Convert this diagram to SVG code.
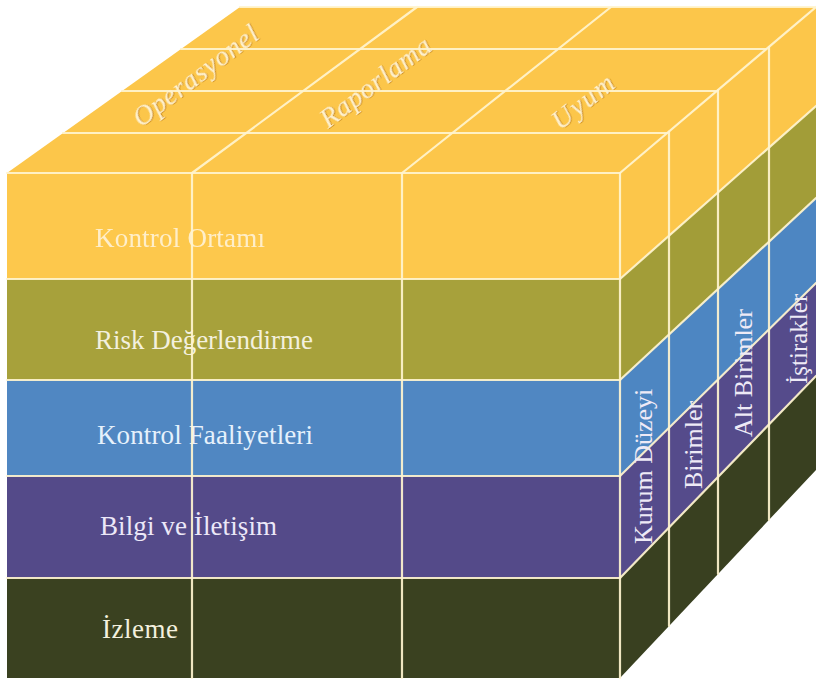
<svg xmlns="http://www.w3.org/2000/svg" width="816" height="682" viewBox="0 0 816 682">
  <defs>
    <style>
      .edge{stroke:#FFF4CF;stroke-width:2.2;fill:none;stroke-linecap:round;stroke-linejoin:round;opacity:.92}
      .lbl{font-family:"Liberation Serif","Times New Roman",serif;font-size:27px;fill:#F3F0DE}
      .side{font-family:"Liberation Serif","Times New Roman",serif;font-size:26px;fill:#EEEAF6}
      .topl{font-family:"Liberation Serif","Times New Roman",serif;font-style:italic;font-size:28px;fill:#FFF1CC;filter:url(#emboss)}
    </style>
    <filter id="emboss" x="-10%" y="-30%" width="120%" height="160%">
      <feDropShadow dx="0.8" dy="0.8" stdDeviation="0.6" flood-color="#B87818" flood-opacity="0.75"/>
    </filter>
  </defs>

  <rect width="816" height="682" fill="#FFFFFF"/>

  <!-- top face: objectives -->
  <g id="top-face">
    <polygon points="7,173 620,173 816,7 240,7" fill="#FCC64A"/>
    <text class="topl" transform="translate(141,128) rotate(-37)" textLength="150">Operasyonel</text>
    <text class="topl" transform="translate(328,129) rotate(-37)" textLength="132">Raporlama</text>
    <text class="topl" transform="translate(560,131) rotate(-38)" textLength="72">Uyum</text>
  </g>

  <!-- component layers: front slab + side slab + label -->
  <g id="layer-kontrol-ortami">
    <rect x="7" y="173" width="613" height="106" fill="#FDC84C"/>
    <polygon points="620,173 816,7 816,106 620,279" fill="#FCC64A"/>
    <text class="lbl" x="95" y="247" textLength="170" style="fill:#FFF3D8;opacity:.9">Kontrol Ortamı</text>
  </g>
  <g id="layer-risk">
    <rect x="7" y="279" width="613" height="101" fill="#A7A13B"/>
    <polygon points="620,279 816,106 816,198 620,380" fill="#A29D38"/>
    <text class="lbl" x="95" y="349" textLength="218">Risk Değerlendirme</text>
  </g>
  <g id="layer-faaliyetler">
    <rect x="7" y="380" width="613" height="96" fill="#5087C2"/>
    <polygon points="620,380 816,198 816,283 620,476" fill="#4D86C2"/>
    <text class="lbl" x="97" y="444" textLength="216" style="fill:#E6F1FC">Kontrol Faaliyetleri</text>
  </g>
  <g id="layer-bilgi">
    <rect x="7" y="476" width="613" height="102" fill="#544A89"/>
    <polygon points="620,476 816,283 816,376 620,578" fill="#554B8B"/>
    <text class="lbl" x="100" y="535" textLength="177" style="fill:#ECE8F8">Bilgi ve İletişim</text>
  </g>
  <g id="layer-izleme">
    <rect x="7" y="578" width="613" height="100" fill="#3A4120"/>
    <polygon points="620,578 816,376 816,470 620,678" fill="#394020"/>
    <text class="lbl" x="102" y="638" textLength="76">İzleme</text>
  </g>

  <!-- grid lines of the cube -->
  <g id="connectors">
    <!-- top face -->
    <line class="edge" x1="240" y1="7" x2="816" y2="7"/>
    <line class="edge" x1="181" y1="49" x2="766" y2="49"/>
    <line class="edge" x1="122" y1="91" x2="717" y2="91"/>
    <line class="edge" x1="63" y1="133" x2="667" y2="133"/>
    <line class="edge" x1="7" y1="173" x2="620" y2="173"/>
    <line class="edge" x1="192" y1="173" x2="417" y2="7"/>
    <line class="edge" x1="402" y1="173" x2="611" y2="7"/>
    <line class="edge" x1="620" y1="173" x2="816" y2="7"/>
    <!-- front face -->
    <line class="edge" x1="7" y1="279" x2="620" y2="279"/>
    <line class="edge" x1="7" y1="380" x2="620" y2="380"/>
    <line class="edge" x1="7" y1="476" x2="620" y2="476"/>
    <line class="edge" x1="7" y1="578" x2="620" y2="578"/>
    <line class="edge" x1="192" y1="173" x2="192" y2="678"/>
    <line class="edge" x1="402" y1="173" x2="402" y2="678"/>
    <line class="edge" x1="620" y1="173" x2="620" y2="678"/>
    <!-- side face -->
    <line class="edge" x1="620" y1="279" x2="816" y2="106"/>
    <line class="edge" x1="620" y1="380" x2="816" y2="198"/>
    <line class="edge" x1="620" y1="476" x2="816" y2="283"/>
    <line class="edge" x1="620" y1="578" x2="816" y2="376"/>
    <line class="edge" x1="669" y1="131.5" x2="669" y2="626"/>
    <line class="edge" x1="718" y1="90" x2="718" y2="574"/>
    <line class="edge" x1="769" y1="47" x2="769" y2="520"/>
  </g>

  <!-- side face: organisation levels -->
  <g id="side-labels">
    <text class="side" transform="translate(652,544) rotate(-90)">Kurum Düzeyi</text>
    <text class="side" transform="translate(702,489) rotate(-90)">Birimler</text>
    <text class="side" transform="translate(752,437) rotate(-90)">Alt Birimler</text>
    <text class="side" transform="translate(807,384) rotate(-90)" style="font-size:25px">İştirakler</text>
  </g>
</svg>
